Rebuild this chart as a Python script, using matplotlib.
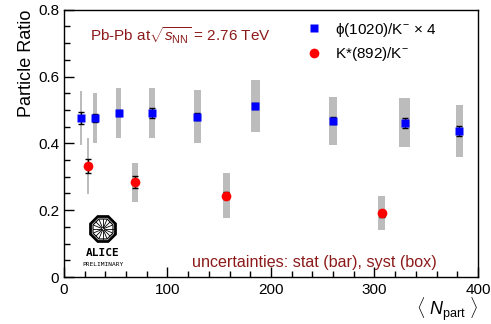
import matplotlib
matplotlib.use("Agg")
import matplotlib.pyplot as plt
from matplotlib.patches import Rectangle, RegularPolygon
import numpy as np

plt.rcParams['font.family'] = ['Liberation Sans', 'DejaVu Sans']
plt.rcParams['mathtext.fontset'] = 'custom'
plt.rcParams['mathtext.rm'] = 'Liberation Sans'
plt.rcParams['mathtext.it'] = 'Liberation Sans:italic'

# phi(1020)/K- x 4
phi_npart = [16.4, 30, 53, 85, 129, 185, 260, 329, 382]
phi_ratio = [0.476, 0.476, 0.491, 0.491, 0.480, 0.512, 0.468, 0.462, 0.437]
phi_stat = [0.017, 0.012, 0.010, 0.014, 0.010, 0.010, 0.010, 0.015, 0.014]
phi_syst = [0.080, 0.075, 0.075, 0.075, 0.080, 0.078, 0.072, 0.073, 0.079]
phi_wid = [2, 3, 5, 6.5, 7.5, 8.5, 8.5, 10, 7]

# K*(892)/K-
kst_npart = [22.8, 69, 157, 307]
kst_ratio = [0.332, 0.283, 0.243, 0.191]
kst_stat = [0.021, 0.018, 0.010, 0.010]
kst_syst = [0.084, 0.059, 0.067, 0.051]
kst_wid = [2, 6, 7.5, 7]

fig = plt.figure(figsize=(4.91, 3.24), dpi=100)
ax = fig.add_axes([0.1303, 0.145, 0.8432, 0.825])

# syst boxes
for x, y, s, w in list(zip(phi_npart, phi_ratio, phi_syst, phi_wid)) + list(zip(kst_npart, kst_ratio, kst_syst, kst_wid)):
    ax.add_patch(Rectangle((x - w / 2, y - s), w, 2 * s, facecolor='#bcbcbc',
                           edgecolor='none', zorder=1))

ax.errorbar(phi_npart, phi_ratio, yerr=phi_stat, fmt='none', ecolor='black',
            elinewidth=1, capsize=2, zorder=2)
ax.errorbar(kst_npart, kst_ratio, yerr=kst_stat, fmt='none', ecolor='black',
            elinewidth=1, capsize=2, zorder=2)
h1, = ax.plot(phi_npart, phi_ratio, 's', color='#0000ff', ms=6, mec='none', zorder=3,
              label=r'ϕ(1020)/K$^{-}$ $\times$ 4')
h2, = ax.plot(kst_npart, kst_ratio, 'o', color='#ff0000', ms=7, mec='none', zorder=3,
              label=r'K*(892)/K$^{-}$')

ax.legend(handles=[h1, h2], loc='upper left', bbox_to_anchor=(0.552, 1.01), frameon=False,
          fontsize=11, handlelength=1.0, handletextpad=0.9, labelspacing=0.4)

ax.set_xlim(0, 400)
ax.set_ylim(0, 0.8)
ax.set_xticks([0, 100, 200, 300, 400])
ax.set_xticks(np.arange(0, 401, 20), minor=True)
ax.set_yticks([0, 0.2, 0.4, 0.6, 0.8])
ax.set_yticklabels(['0', '0.2', '0.4', '0.6', '0.8'])
ax.set_yticks(np.arange(0, 0.81, 0.05), minor=True)
ax.tick_params(which='both', direction='in', labelsize=11, top=False, right=False)
ax.tick_params(which='major', length=7, width=1)
ax.tick_params(which='minor', length=4, width=1)
ax.tick_params(axis='x', pad=4)
for sp in ax.spines.values():
    sp.set_linewidth(1)

ax.set_ylabel('Particle Ratio', fontsize=13, loc='top', labelpad=2)
ax.text(1.0, -0.07, r'$\langle\ N_{\rm part}\ \rangle$', transform=ax.transAxes,
        ha='right', va='top', fontsize=13)

dred = '#8c1a1a'
ax.text(0.063, 0.905, r'Pb-Pb at$\sqrt{s_{\rm NN}}$ = 2.76 TeV', transform=ax.transAxes,
        fontsize=11, color=dred, va='center')
ax.text(0.31, 0.055, 'uncertainties: stat (bar), syst (box)', transform=ax.transAxes,
        fontsize=11.6, color=dred, va='center')

# ALICE logo
lg = fig.add_axes([88 / 491, 1 - 244 / 324, 30 / 491, 30 / 324])
lg.set_xlim(-1, 1)
lg.set_ylim(-1, 1)
lg.set_aspect('equal')
lg.axis('off')
lg.add_patch(RegularPolygon((0, 0), 8, radius=1.0, orientation=np.pi / 8, fc='black', ec='none'))
lg.add_patch(RegularPolygon((0, 0), 8, radius=0.8, orientation=np.pi / 8, fc='white', ec='none'))
lg.add_patch(RegularPolygon((0, 0), 8, radius=0.72, orientation=np.pi / 8, fc='white', ec='black', lw=0.8))
for a in np.linspace(0, 2 * np.pi, 16, endpoint=False):
    lg.plot([0.1 * np.cos(a), 0.66 * np.cos(a)], [0.1 * np.sin(a), 0.66 * np.sin(a)],
            color='black', lw=0.6)
fig.text(103 / 491, 1 - 253 / 324, 'ALICE', ha='center', va='center', fontsize=8,
         family='DejaVu Sans Mono', weight='bold')
fig.text(103 / 491, 1 - 264 / 324, 'PRELIMINARY', ha='center', va='center', fontsize=4.5,
         family='DejaVu Sans Mono')

fig.savefig('out.png', dpi=100)
